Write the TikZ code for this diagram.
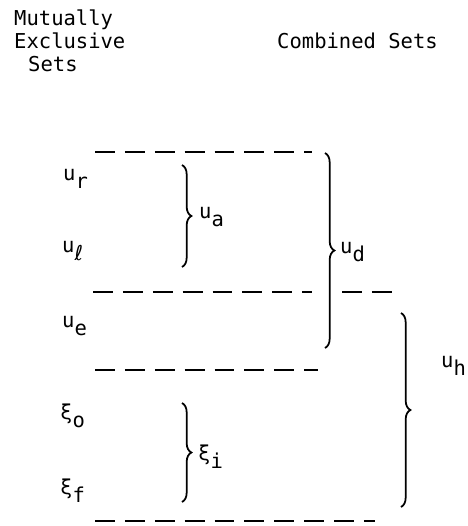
\documentclass[tikz,border=0pt]{standalone}
\usepackage{fontspec}
\setmainfont{DejaVu Sans Mono}
\newfontfamily\ellfont{DejaVu Sans}
\usepackage{tikz}
\usetikzlibrary{decorations.pathreplacing}

\newcommand{\lowsub}[1]{\raisebox{-7.5pt}{#1}}

\begin{document}
\begin{tikzpicture}[
        x=0.03cm, y=-0.03cm,
        settext/.style={
            anchor=base west,
            inner sep=0pt,
            font=\fontsize{17.5}{20}\selectfont
        },
        dashline/.style={
            line width=1.7pt,
            dash pattern=on 17pt off 8.5pt
        },
        setbrace/.style={
            decorate,
            decoration={brace, amplitude=8pt},
            line width=1.5pt
        }
    ]

    \useasboundingbox (0,0) rectangle (467,526);

    % column headings
    \node[settext] (hmut) at (14,25) {Mutually};
    \node[settext] (hexc) at (14,48) {Exclusive};
    \node[settext] (hsets) at (28,71) {Sets};
    \node[settext] (hcomb) at (277,48) {Combined Sets};

    % mutually exclusive sets
    \node[settext] (ur) at (63,180) {u\lowsub{r}};
    \node[settext] (ul) at (62,252) {u\lowsub{\ellfont ℓ}};
    \node[settext] (ue) at (62,327) {u\lowsub{e}};
    \node[settext] (xo) at (60,419) {ξ\lowsub{o}};
    \node[settext] (xf) at (60,494) {ξ\lowsub{f}};

    % separating lines
    \coordinate (top w) at (95,152);
    \coordinate (top e) at (312,152);
    \coordinate (mid w) at (93,292);
    \coordinate (mid gap w) at (312,292);
    \coordinate (mid gap e) at (342,292);
    \coordinate (mid e) at (397,292);
    \coordinate (low w) at (95,370);
    \coordinate (low e) at (318,370);
    \coordinate (bot w) at (95,521);
    \coordinate (bot e) at (375,521);

    \draw[dashline] (top w) -- (top e);
    \draw[dashline] (mid w) -- (mid gap w);
    \draw[dashline] (mid gap e) -- (mid e);
    \draw[dashline] (low w) -- (low e);
    \draw[dashline] (bot w) -- (bot e);

    % combined sets
    \coordinate (ua top) at (182,165);
    \coordinate (ua bot) at (182,267);
    \coordinate (xi top) at (182,403);
    \coordinate (xi bot) at (182,502);
    \coordinate (ud top) at (325,153);
    \coordinate (ud bot) at (325,348);
    \coordinate (uh top) at (401,313);
    \coordinate (uh bot) at (401,507);

    \draw[setbrace] (ua top) -- (ua bot);
    \draw[setbrace] (xi top) -- (xi bot);
    \draw[setbrace] (ud top) -- (ud bot);
    \draw[setbrace] (uh top) -- (uh bot);

    \node[settext] (ua) at (199,218) {u\lowsub{a}};
    \node[settext] (xi) at (198,460) {ξ\lowsub{i}};
    \node[settext] (ud) at (340,253) {u\lowsub{d}};
    \node[settext] (uh) at (441,367) {u\lowsub{h}};

\end{tikzpicture}
\end{document}
